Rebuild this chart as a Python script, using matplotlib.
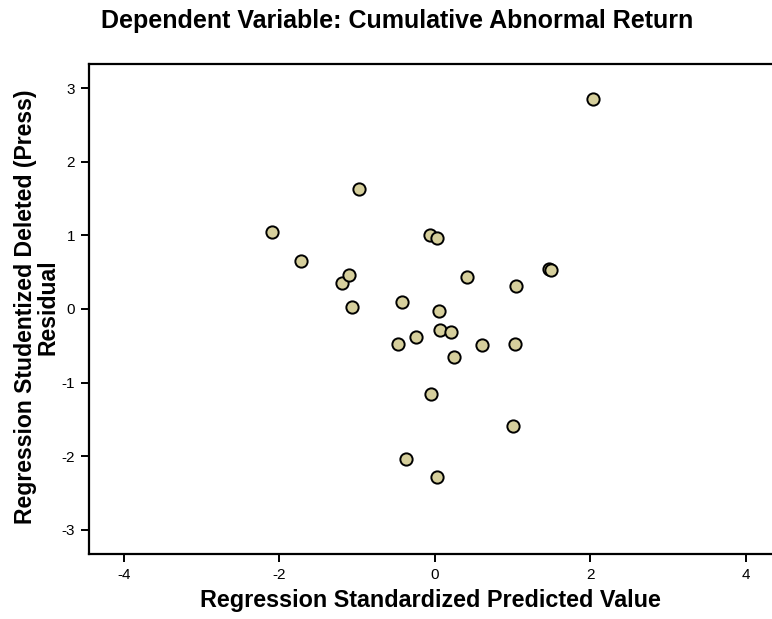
import matplotlib
matplotlib.use("Agg")
import matplotlib.pyplot as plt

plt.rcParams["font.family"] = ["Liberation Sans", "DejaVu Sans"]
plt.rcParams["axes.unicode_minus"] = False

# standardized predicted value (x) and studentized deleted residual (y)
pred_values = [
    -2.09, -1.72, -0.97, -1.20, -1.10, -1.06, -0.42, -0.06, 0.03, 0.05,
    0.07, 0.21, -0.24, -0.48, 2.04, 0.41, 1.04, 1.47, 1.49, 0.61,
    1.03, 0.24, -0.05, 1.00, -0.37, 0.03,
]
resid_values = [
    1.05, 0.65, 1.63, 0.36, 0.46, 0.03, 0.10, 1.01, 0.97, -0.03,
    -0.29, -0.31, -0.38, -0.47, 2.85, 0.44, 0.31, 0.54, 0.53, -0.49,
    -0.47, -0.65, -1.15, -1.59, -2.04, -2.28,
]
x_ticks = [-4, -2, 0, 2, 4]
y_ticks = [-3, -2, -1, 0, 1, 2, 3]

TITLE = "Dependent Variable: Cumulative Abnormal Return"
X_LABEL = "Regression Standardized Predicted Value"
Y_LABEL = "Regression Studentized Deleted (Press)\nResidual"

W, H = 772, 619
fig = plt.figure(figsize=(W / 100, H / 100), dpi=100)
# axes box runs past the right edge of the image, like the original export
ax = fig.add_axes([89 / W, 1 - 554 / H, (780 - 89) / W, (554 - 64) / H])

ax.scatter(pred_values, resid_values, s=78, c="#D6CF9C",
           edgecolors="black", linewidths=1.4, zorder=3)

ax.set_xlim(-4.45, 4.44)
ax.set_ylim(-3.33, 3.33)
ax.set_xticks(x_ticks)
ax.set_yticks(y_ticks)
ax.tick_params(direction="out", length=6, width=1.4, labelsize=11,
               pad=4, colors="black")

for side, spine in ax.spines.items():
    spine.set_linewidth(1.6)
    spine.set_color("black")

fig.text(430 / W, 1 - 607 / H, X_LABEL, ha="center", va="baseline",
         fontsize=16.8, fontweight="bold")
fig.text(37 / W, 1 - 307 / H, Y_LABEL, rotation=90, ha="center", va="center",
         multialignment="center", fontsize=16.6, fontweight="bold", linespacing=0.95)
fig.text(397 / W, 1 - 28 / H, TITLE, ha="center", va="baseline",
         fontsize=18, fontweight="bold")

fig.savefig("out.png", dpi=100)
